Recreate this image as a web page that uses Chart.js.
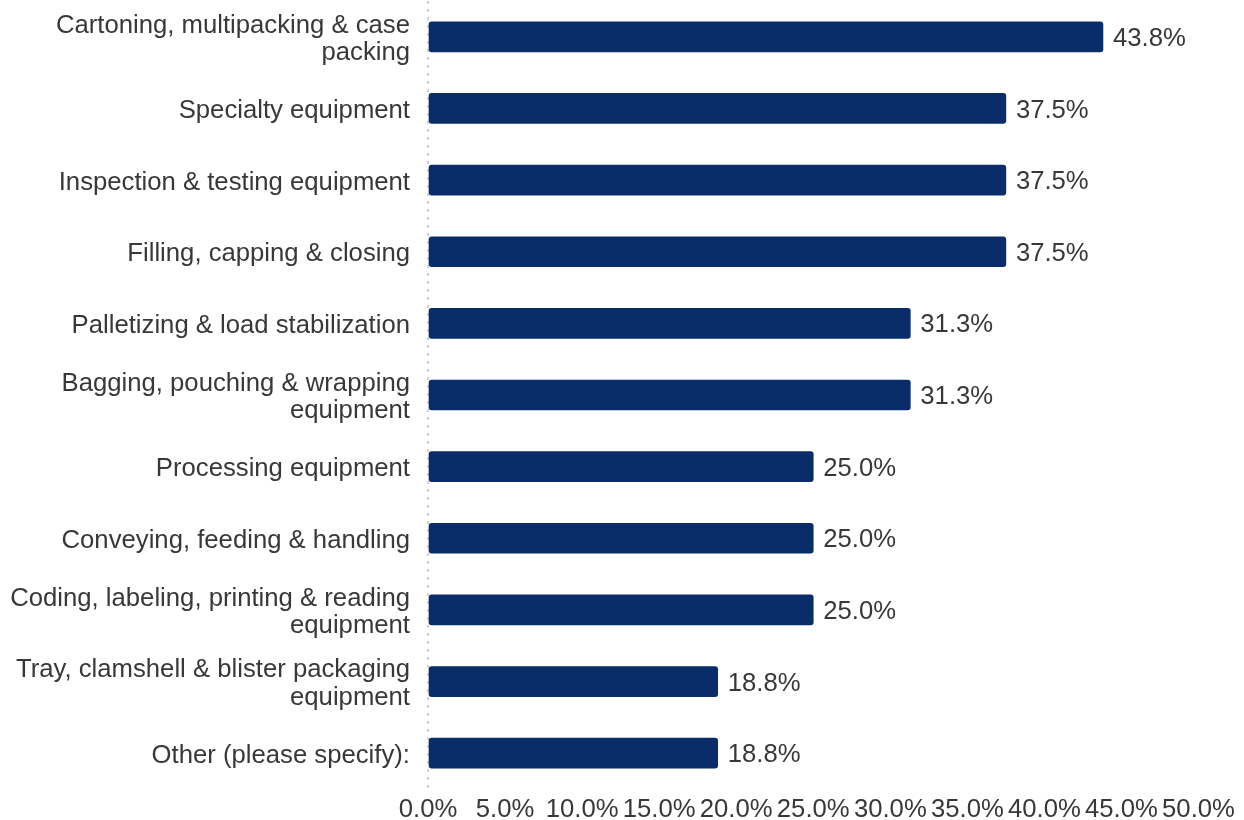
<!DOCTYPE html>
<html>
<head>
<meta charset="utf-8">
<script src="https://cdn.jsdelivr.net/npm/chart.js@4"></script>
<style>
  html, body { margin: 0; padding: 0; background: #ffffff; }
  #wrap { width: 1244px; height: 820px; position: relative; }
</style>
</head>
<body>
<div id="wrap"><canvas id="chart"></canvas></div>
<script>
const categories = [
  ['Cartoning, multipacking & case', 'packing'],
  'Specialty equipment',
  'Inspection & testing equipment',
  'Filling, capping & closing',
  'Palletizing & load stabilization',
  ['Bagging, pouching & wrapping', 'equipment'],
  'Processing equipment',
  'Conveying, feeding & handling',
  ['Coding, labeling, printing & reading', 'equipment'],
  ['Tray, clamshell & blister packaging', 'equipment'],
  'Other (please specify):'
];
const shares = [43.8, 37.5, 37.5, 37.5, 31.3, 31.3, 25.0, 25.0, 25.0, 18.8, 18.8];
const axisTicks = [0, 5, 10, 15, 20, 25, 30, 35, 40, 45, 50];

const textColor = '#383838';
const fontSpec = { family: "'Liberation Sans', Arial, sans-serif", size: 25.7 };

// Writes each bar's percentage just past its end
const valueLabels = {
  id: 'valueLabels',
  afterDatasetsDraw(chart) {
    const ctx = chart.ctx;
    const meta = chart.getDatasetMeta(0);
    ctx.save();
    ctx.font = `${fontSpec.size}px ${fontSpec.family}`;
    ctx.fillStyle = textColor;
    ctx.textAlign = 'left';
    ctx.textBaseline = 'middle';
    meta.data.forEach((bar, i) => {
      ctx.fillText(shares[i].toFixed(1) + '%', bar.x + 10, bar.y + 2);
    });
    ctx.restore();
  }
};

new Chart(document.getElementById('chart'), {
  type: 'bar',
  data: {
    labels: categories,
    datasets: [{
      data: shares,
      backgroundColor: '#0a2d69',
      borderRadius: 3,
      borderSkipped: false,
      barThickness: 30
    }]
  },
  options: {
    indexAxis: 'y',
    responsive: true,
    maintainAspectRatio: false,
    animation: false,
    layout: { padding: { top: 1, right: 45.5, left: 0, bottom: 0 } },
    plugins: {
      legend: { display: false },
      tooltip: { enabled: false }
    },
    scales: {
      x: {
        min: 0,
        max: 50,
        afterBuildTicks(scale) {
          scale.ticks = axisTicks.map(v => ({ value: v }));
        },
        afterFit(scale) {
          scale.height = 31;
          scale.paddingLeft = 0;
          scale.paddingRight = 0;
        },
        // only the zero line is shown, as a light dotted rule
        grid: {
          drawTicks: false,
          lineWidth: 2,
          color: c => (c.tick && c.tick.value === 0 ? '#d2d2d2' : 'rgba(0,0,0,0)')
        },
        border: { display: false, dash: [3, 5] },
        ticks: {
          padding: 5,
          maxRotation: 0,
          autoSkip: false,
          color: textColor,
          font: fontSpec,
          callback: v => Number(v).toFixed(1) + '%'
        }
      },
      y: {
        afterFit(scale) {
          scale.width = 428;
          scale.paddingTop = 0;
          scale.paddingBottom = 0;
        },
        grid: { display: false, drawTicks: false },
        border: { display: false },
        ticks: {
          padding: 18,
          labelOffset: 2.5,
          color: textColor,
          font: { ...fontSpec, lineHeight: 1.07 },
          autoSkip: false
        }
      }
    }
  },
  plugins: [valueLabels]
});
</script>
</body>
</html>
